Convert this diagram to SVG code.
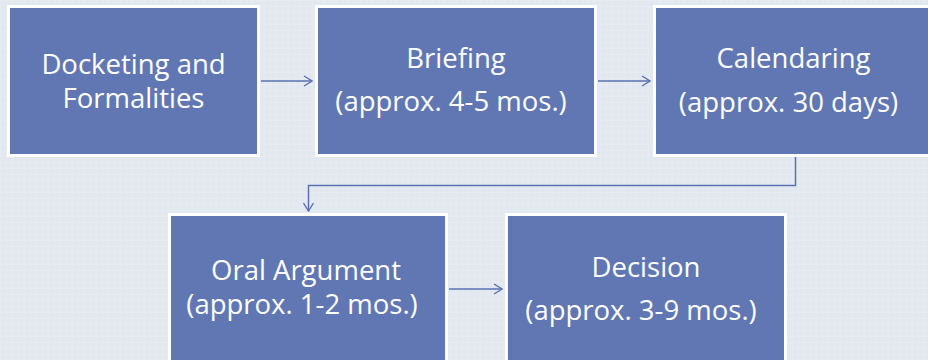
<svg xmlns="http://www.w3.org/2000/svg" width="928" height="360" viewBox="0 0 928 360">
<defs>
<pattern id="tex" width="6" height="6" patternUnits="userSpaceOnUse">
<rect width="6" height="6" fill="#e2e8f0"/>
<path d="M0 0.5H6M0.5 0V6" stroke="#e6ebf2" stroke-width="1"/>
</pattern>
<marker id="arr" viewBox="0 0 10 12" refX="9" refY="6" markerWidth="10" markerHeight="12" markerUnits="userSpaceOnUse" orient="auto">
<path d="M1 1L9 6L1 11" fill="none" stroke="#5b70b0" stroke-width="1.4"/>
</marker>
<style>
.box{fill:#6177b3;stroke:#ffffff;stroke-width:3}
.t{font-family:"Open Sans","Liberation Sans",sans-serif;font-size:27.5px;fill:#ffffff;text-anchor:middle}
.c{fill:none;stroke:#5b70b0;stroke-width:1.5}
</style>
</defs>
<rect width="928" height="360" fill="url(#tex)"/>
<g id="connectors">
<path class="c" d="M261 81H312" marker-end="url(#arr)"/>
<path class="c" d="M598 81H650" marker-end="url(#arr)"/>
<path class="c" d="M795.5 157V185.5H308.5V211" marker-end="url(#arr)"/>
<path class="c" d="M449 289H502" marker-end="url(#arr)"/>
</g>
<g id="n1">
<rect class="box" x="8.5" y="6.5" width="250" height="149"/>
<text class="t" x="133.5" y="74">Docketing and</text>
<text class="t" x="133.5" y="108">Formalities</text>
</g>
<g id="n2">
<rect class="box" x="316.5" y="6.5" width="279" height="149"/>
<text class="t" x="456" y="68">Briefing</text>
<text class="t" x="451" y="111">(approx. 4-5 mos.)</text>
</g>
<g id="n3">
<rect class="box" x="654.5" y="6.5" width="290" height="149"/>
<text class="t" x="793.5" y="68">Calendaring</text>
<text class="t" x="788.5" y="112">(approx. 30 days)</text>
</g>
<g id="n4">
<rect class="box" x="169.5" y="214.5" width="277" height="160"/>
<text class="t" x="306" y="280">Oral Argument</text>
<text class="t" x="302" y="314">(approx. 1-2 mos.)</text>
</g>
<g id="n5">
<rect class="box" x="506.5" y="214.5" width="279" height="160"/>
<text class="t" x="646" y="277">Decision</text>
<text class="t" x="641" y="320">(approx. 3-9 mos.)</text>
</g>
</svg>
